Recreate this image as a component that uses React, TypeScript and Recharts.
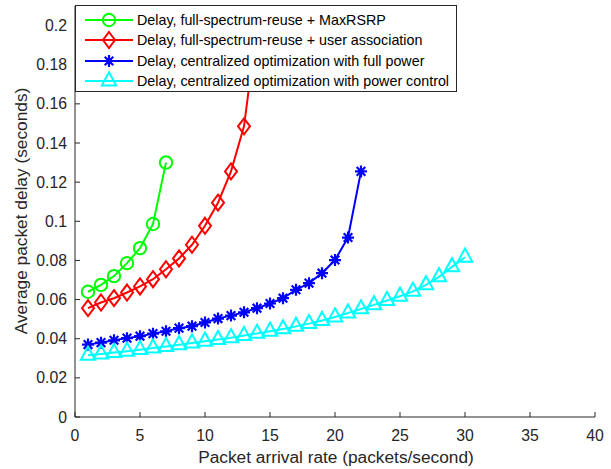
import { LineChart, Line, XAxis, YAxis, Legend } from 'recharts'

// packet arrival rate (packets/second)
const rates = [
  1, 2, 3, 4, 5, 6, 7, 8, 9, 10, 11, 12, 13, 14, 15,
  16, 17, 18, 19, 20, 21, 22, 23, 24, 25, 26, 27, 28, 29, 30,
]

// average packet delay (seconds), one value per rate starting at 1
const maxRsrp = [0.064, 0.0675, 0.072, 0.0786, 0.0863, 0.0986, 0.13]
const userAssoc = [
  0.0556, 0.0585, 0.0607, 0.0636, 0.0667, 0.0704, 0.0755, 0.081, 0.088, 0.0977,
  0.1095, 0.1255, 0.1485, 0.2,
]
const fullPower = [
  0.037, 0.038, 0.0392, 0.0403, 0.0413, 0.0426, 0.0438, 0.0454, 0.0464, 0.0483,
  0.0503, 0.0518, 0.0535, 0.0556, 0.058, 0.0607, 0.065, 0.0684, 0.0735, 0.0802,
  0.0917, 0.1255,
]
const powerControl = [
  0.0315, 0.0322, 0.0329, 0.0336, 0.0344, 0.0352, 0.036, 0.0369, 0.0378, 0.0387,
  0.0396, 0.0405, 0.0416, 0.0427, 0.0438, 0.045, 0.0463, 0.0477, 0.0493, 0.0511,
  0.0531, 0.0552, 0.0573, 0.0595, 0.0617, 0.0642, 0.0675, 0.0716, 0.0767, 0.0816,
]

const xTicks = [0, 5, 10, 15, 20, 25, 30, 35, 40]
const yTicks = [0, 0.02, 0.04, 0.06, 0.08, 0.1, 0.12, 0.14, 0.16, 0.18, 0.2]

const legendLabels = [
  'Delay, full-spectrum-reuse + MaxRSRP',
  'Delay, full-spectrum-reuse + user association',
  'Delay, centralized optimization with full power',
  'Delay, centralized optimization with power control',
]

const data = rates.map((x, i) => ({
  x,
  maxRsrp: maxRsrp[i],
  userAssoc: userAssoc[i],
  fullPower: fullPower[i],
  powerControl: powerControl[i],
}))

const AXIS = '#262626'
const FONT = '"Liberation Sans", Arial, Helvetica, sans-serif'

type Shape = 'circle' | 'diamond' | 'star' | 'triangle'

function markerPath(shape: Shape, cx: number, cy: number, color: string, key?: any) {
  const common = { stroke: color, strokeWidth: 2, fill: 'none' }
  if (shape === 'circle') return <circle key={key} cx={cx} cy={cy} r={6.2} {...common} />
  if (shape === 'diamond')
    return (
      <path
        key={key}
        d={`M${cx},${cy - 8}L${cx + 6},${cy}L${cx},${cy + 8}L${cx - 6},${cy}Z`}
        {...common}
      />
    )
  if (shape === 'triangle')
    return (
      <path
        key={key}
        d={`M${cx},${cy - 8.7}L${cx + 7.2},${cy + 4.4}L${cx - 7.2},${cy + 4.4}Z`}
        {...common}
      />
    )
  const s = 6
  const d = 4.3
  return (
    <path
      key={key}
      d={`M${cx - s},${cy}L${cx + s},${cy}M${cx},${cy - s}L${cx},${cy + s}M${cx - d},${cy - d}L${cx + d},${cy + d}M${cx - d},${cy + d}L${cx + d},${cy - d}`}
      stroke={color}
      strokeWidth={2.2}
      fill="none"
    />
  )
}

const makeDot = (shape: Shape, color: string) => (props: any) => {
  const { cx, cy, index } = props
  if (cx == null || cy == null) return <g key={index} />
  return markerPath(shape, cx, cy, color, index)
}

const series: { key: string; color: string; shape: Shape }[] = [
  { key: 'maxRsrp', color: '#00ff00', shape: 'circle' },
  { key: 'userAssoc', color: '#ff0000', shape: 'diamond' },
  { key: 'fullPower', color: '#0000ff', shape: 'star' },
  { key: 'powerControl', color: '#00ffff', shape: 'triangle' },
]

function LegendBox() {
  return (
    <div
      style={{
        boxSizing: 'border-box',
        width: 382,
        height: 87,
        border: `1px solid ${AXIS}`,
        background: '#fff',
        fontFamily: FONT,
        fontSize: 14.3,
        color: '#000',
        paddingTop: 4,
      }}
    >
      {series.map((s, i) => (
        <div key={s.key} style={{ display: 'flex', alignItems: 'center', height: 20.3 }}>
          <svg width={61} height={20} style={{ flex: 'none' }}>
            <line x1={9} y1={10} x2={57} y2={10} stroke={s.color} strokeWidth={2} />
            {markerPath(s.shape, 33, 10, s.color)}
          </svg>
          <span style={{ whiteSpace: 'nowrap' }}>{legendLabels[i]}</span>
        </div>
      ))}
    </div>
  )
}

export default function App() {
  return (
    <div style={{ position: 'absolute', left: 0, top: 0, width: 611, height: 469, background: '#fff' }}>
      <LineChart
        width={611}
        height={469}
        data={data}
        margin={{ top: 6, right: 16, bottom: 0, left: 0 }}
      >
        <XAxis
          dataKey="x"
          type="number"
          domain={[0, 40]}
          ticks={xTicks}
          allowDataOverflow
          height={52}
          stroke={AXIS}
          tickSize={-5}
          tickMargin={18}
          tick={{ fill: AXIS, fontSize: 15.8, fontFamily: FONT }}
          label={{
            content: () => (
              <text x={336} y={463} textAnchor="middle" fill={AXIS} fontSize={17.3} fontFamily={FONT}>
                Packet arrival rate (packets/second)
              </text>
            ),
          }}
        />
        <XAxis
          xAxisId="top"
          orientation="top"
          type="number"
          domain={[0, 40]}
          ticks={xTicks}
          allowDataOverflow
          height={0}
          stroke={AXIS}
          tickSize={-5}
          tick={false}
        />
        <YAxis
          type="number"
          domain={[0, 0.21]}
          ticks={yTicks}
          allowDataOverflow
          width={75}
          stroke={AXIS}
          tickSize={-5}
          tickMargin={13}
          tick={{ fill: AXIS, fontSize: 15.8, fontFamily: FONT }}
          label={{
            content: () => (
              <text
                x={27}
                y={211}
                transform="rotate(-90 27 211)"
                textAnchor="middle"
                fill={AXIS}
                fontSize={17.3}
                fontFamily={FONT}
              >
                Average packet delay (seconds)
              </text>
            ),
          }}
        />
        <YAxis
          yAxisId="right"
          orientation="right"
          type="number"
          domain={[0, 0.21]}
          ticks={yTicks}
          allowDataOverflow
          width={0}
          stroke={AXIS}
          tickSize={-5}
          tick={false}
        />
        {series.map((s) => (
          <Line
            key={s.key}
            dataKey={s.key}
            type="linear"
            stroke={s.color}
            strokeWidth={2}
            dot={makeDot(s.shape, s.color)}
            activeDot={false}
            isAnimationActive={false}
          />
        ))}
        <Legend
          layout="vertical"
          align="center"
          verticalAlign="middle"
          wrapperStyle={{ left: 75, top: 5, width: 382, height: 87 }}
          content={() => <LegendBox />}
        />
      </LineChart>
    </div>
  )
}
